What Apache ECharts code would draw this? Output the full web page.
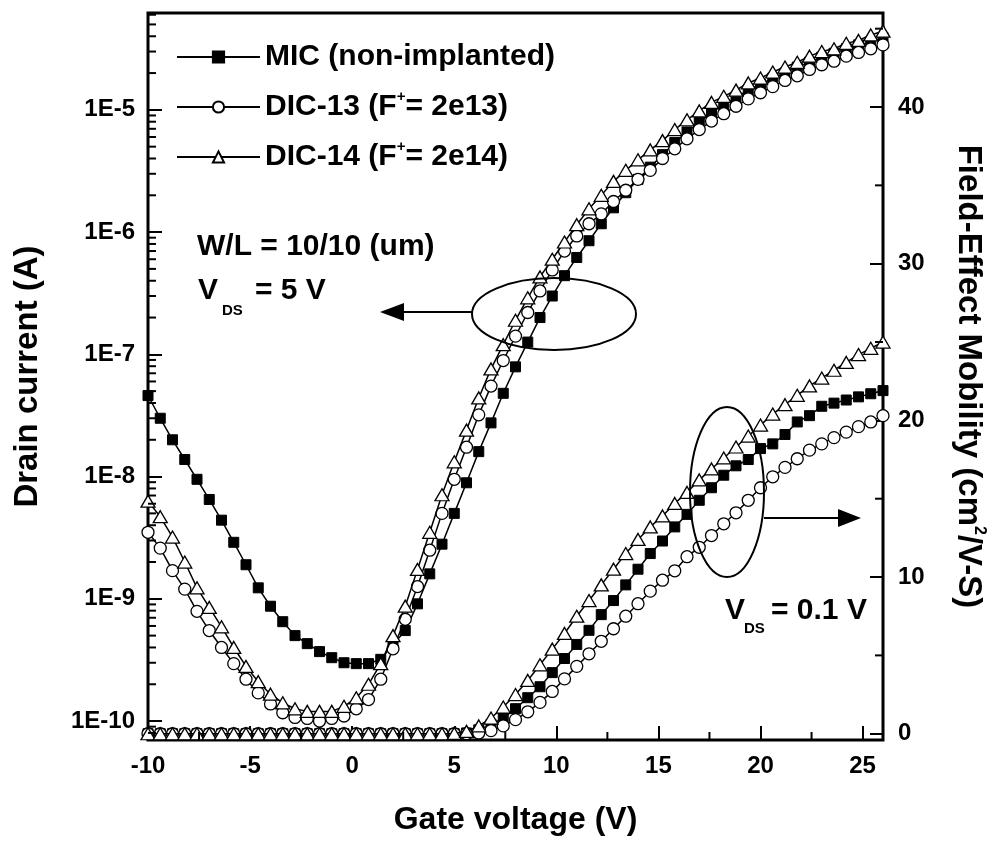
<!DOCTYPE html>
<html>
<head>
<meta charset="utf-8">
<title>Transfer characteristics and field-effect mobility</title>
<script src="https://cdn.jsdelivr.net/npm/echarts@6/dist/echarts.min.js"></script>
<style>
  html, body { margin: 0; padding: 0; background: #fff; }
  #chart { width: 1000px; height: 841px; }
</style>
</head>
<body>
<div id="chart"></div>
<script>
// Gate voltage sweep (V)
const gateVoltage = [
  -10, -9.4, -8.8, -8.2, -7.6, -7.0, -6.4, -5.8, -5.2, -4.6,
  -4.0, -3.4, -2.8, -2.2, -1.6, -1.0, -0.4, 0.2, 0.8, 1.4,
  2.0, 2.6, 3.2, 3.8, 4.4, 5.0, 5.6, 6.2, 6.8, 7.4,
  8.0, 8.6, 9.2, 9.8, 10.4, 11.0, 11.6, 12.2, 12.8, 13.4,
  14.0, 14.6, 15.2, 15.8, 16.4, 17.0, 17.6, 18.2, 18.8, 19.4,
  20.0, 20.6, 21.2, 21.8, 22.4, 23.0, 23.6, 24.2, 24.8, 25.4, 26.0
];

// Drain current (A) at VDS = 5 V
const drainMIC = [
  4.6e-8, 3.0e-8, 2.0e-8, 1.38e-8, 9.5e-9, 6.5e-9, 4.4e-9, 2.9e-9, 1.9e-9, 1.23e-9,
  8.7e-10, 6.5e-10, 5.0e-10, 4.3e-10, 3.7e-10, 3.3e-10, 3.0e-10, 2.95e-10, 2.95e-10, 3.2e-10,
  4.2e-10, 5.5e-10, 9.1e-10, 1.6e-9, 2.8e-9, 5.0e-9, 8.9e-9, 1.6e-8, 2.75e-8, 4.8e-8,
  7.9e-8, 1.26e-7, 2.0e-7, 3.0e-7, 4.4e-7, 6.2e-7, 8.5e-7, 1.17e-6, 1.58e-6, 2.1e-6,
  2.7e-6, 3.4e-6, 4.3e-6, 5.4e-6, 6.6e-6, 7.9e-6, 9.5e-6, 1.1e-5, 1.26e-5, 1.45e-5,
  1.62e-5, 1.82e-5, 2.0e-5, 2.24e-5, 2.45e-5, 2.7e-5, 2.9e-5, 3.16e-5, 3.4e-5, 3.6e-5, 3.9e-5
];
const drainDIC13 = [
  3.5e-9, 2.6e-9, 1.7e-9, 1.2e-9, 7.9e-10, 5.5e-10, 4.0e-10, 2.95e-10, 2.2e-10, 1.7e-10,
  1.38e-10, 1.17e-10, 1.07e-10, 1.05e-10, 1.0e-10, 1.05e-10, 1.1e-10, 1.26e-10, 1.5e-10, 2.2e-10,
  3.9e-10, 6.8e-10, 1.26e-9, 2.5e-9, 5.0e-9, 9.5e-9, 1.74e-8, 3.2e-8, 5.5e-8, 8.9e-8,
  1.41e-7, 2.2e-7, 3.3e-7, 4.9e-7, 7.0e-7, 9.3e-7, 1.17e-6, 1.41e-6, 1.78e-6, 2.2e-6,
  2.7e-6, 3.2e-6, 4.0e-6, 4.8e-6, 5.8e-6, 6.9e-6, 8.1e-6, 9.3e-6, 1.07e-5, 1.23e-5,
  1.38e-5, 1.55e-5, 1.74e-5, 1.9e-5, 2.14e-5, 2.34e-5, 2.5e-5, 2.75e-5, 2.95e-5, 3.16e-5, 3.4e-5
];
const drainDIC14 = [
  6.3e-9, 4.7e-9, 3.2e-9, 2.0e-9, 1.23e-9, 8.5e-10, 5.9e-10, 4.0e-10, 2.8e-10, 2.1e-10,
  1.66e-10, 1.41e-10, 1.26e-10, 1.2e-10, 1.2e-10, 1.2e-10, 1.32e-10, 1.55e-10, 2.0e-10, 2.95e-10,
  5.0e-10, 8.7e-10, 1.74e-9, 3.5e-9, 7.1e-9, 1.32e-8, 2.4e-8, 4.4e-8, 7.6e-8, 1.2e-7,
  1.9e-7, 2.9e-7, 4.3e-7, 6.0e-7, 8.3e-7, 1.15e-6, 1.55e-6, 2.0e-6, 2.6e-6, 3.2e-6,
  3.9e-6, 4.7e-6, 5.6e-6, 6.9e-6, 8.3e-6, 9.8e-6, 1.15e-5, 1.29e-5, 1.45e-5, 1.66e-5,
  1.82e-5, 2.04e-5, 2.24e-5, 2.45e-5, 2.75e-5, 3.0e-5, 3.16e-5, 3.5e-5, 3.7e-5, 4.1e-5, 4.4e-5
];

// Field-effect mobility (cm2/V-s) at VDS = 0.1 V
const mobilityMIC = [
  0, 0, 0, 0, 0, 0, 0, 0, 0, 0,
  0, 0, 0, 0, 0, 0, 0, 0, 0, 0,
  0, 0, 0, 0, 0, 0, 0.05, 0.25, 0.6, 1.0,
  1.6, 2.3, 3.0, 3.9, 4.8, 5.7, 6.6, 7.6, 8.5, 9.5,
  10.5, 11.5, 12.3, 13.2, 14.0, 14.9, 15.7, 16.5, 17.1, 17.5,
  18.2, 18.5, 19.1, 19.9, 20.3, 20.9, 21.1, 21.3, 21.5, 21.7, 21.9
];
const mobilityDIC13 = [
  0, 0, 0, 0, 0, 0, 0, 0, 0, 0,
  0, 0, 0, 0, 0, 0, 0, 0, 0, 0,
  0, 0, 0, 0, 0, 0, 0, 0.05, 0.2, 0.5,
  0.9, 1.4, 2.0, 2.7, 3.5, 4.3, 5.1, 5.9, 6.7, 7.5,
  8.3, 9.1, 9.8, 10.4, 11.3, 11.9, 12.65, 13.4, 14.1, 14.9,
  15.7, 16.4, 17.0, 17.55, 18.1, 18.5, 18.9, 19.25, 19.6, 19.9, 20.3
];
const mobilityDIC14 = [
  0, 0, 0, 0, 0, 0, 0, 0, 0, 0,
  0, 0, 0, 0, 0, 0, 0, 0, 0, 0,
  0, 0, 0, 0, 0, 0.02, 0.15, 0.5, 1.0, 1.7,
  2.5, 3.4, 4.4, 5.4, 6.4, 7.5, 8.5, 9.5, 10.5, 11.5,
  12.4, 13.2, 13.9, 14.7, 15.4, 16.2, 16.9, 17.6, 18.3, 19.0,
  19.7, 20.4, 21.0, 21.6, 22.2, 22.7, 23.2, 23.7, 24.2, 24.6, 25.0
];

const sampleNames = ['MIC (non-implanted)', 'DIC-13 (F+= 2e13)', 'DIC-14 (F+= 2e14)'];

// Axis ranges
const xRange = [-10, 26];
const currentRange = [7e-11, 6.2e-5];
const mobilityRange = [-0.4, 46];
const xMinorTicks = [-7.5, -2.5, 2.5, 7.5, 12.5, 17.5, 22.5];
const mobilityMinorTicks = [5, 15, 25, 35, 45];

const FONT = '"Liberation Sans", Arial, Helvetica, sans-serif';

// Log-axis minor ticks at 2..9 x 10^n
const currentMinorTicks = [];
for (let e = -11; e <= -5; e++) {
  for (let m = 2; m <= 9; m++) {
    const v = m * Math.pow(10, e);
    if (v > currentRange[0] && v < currentRange[1]) currentMinorTicks.push(v);
  }
}

function pairs(values) {
  return gateVoltage.map((v, i) => [v, values[i]]);
}

const markerStyles = [
  { symbol: 'rect', symbolSize: 10, itemStyle: { color: '#000', borderColor: '#000', borderWidth: 1 } },
  { symbol: 'circle', symbolSize: 12, itemStyle: { color: '#fff', borderColor: '#000', borderWidth: 1.3 } },
  { symbol: 'triangle', symbolSize: [14, 12], itemStyle: { color: '#fff', borderColor: '#000', borderWidth: 1.3 } }
];

function curve(nameIdx, values, yAxisIndex) {
  const m = markerStyles[nameIdx];
  return {
    name: sampleNames[nameIdx],
    type: 'line',
    xAxisIndex: 0,
    yAxisIndex: yAxisIndex,
    data: pairs(values),
    symbol: m.symbol,
    symbolSize: m.symbolSize,
    showSymbol: true,
    showAllSymbol: true,
    itemStyle: m.itemStyle,
    lineStyle: { color: '#000', width: 1.5 },
    emphasis: { disabled: true },
    z: 3 + nameIdx,
    clip: true
  };
}

// Short tick marks drawn through the axis scales
function tickSeries(yAxisIndex, data, maker) {
  return {
    type: 'custom',
    xAxisIndex: 0,
    yAxisIndex: yAxisIndex,
    silent: true,
    z: 10,
    data: data,
    renderItem: function (params, api) {
      const p = api.coord([api.value(0), api.value(1)]);
      const s = maker(p);
      return {
        type: 'line',
        shape: { x1: p[0], y1: p[1], x2: s[0], y2: s[1] },
        style: { stroke: '#000', lineWidth: 2 }
      };
    }
  };
}

const chart = echarts.init(document.getElementById('chart'), null, { renderer: 'canvas' });

const supRich = {
  sup: { fontSize: 15, fontWeight: 'bold', fontFamily: FONT, color: '#000', verticalAlign: 'top', lineHeight: 36, padding: [0, 0, 14, 0] }
};

const option = {
  animation: false,
  backgroundColor: '#fff',
  grid: {
    left: 148, right: 117, top: 13, bottom: 100,
    show: true, borderColor: '#000', borderWidth: 3, backgroundColor: 'transparent'
  },
  legend: {
    data: sampleNames,
    orient: 'vertical',
    left: 171,
    top: 34,
    itemWidth: 83,
    itemHeight: 14,
    itemGap: 14,
    selectedMode: false,
    formatter: function (name) {
      return name.replace('F+', 'F{sup|+}');
    },
    textStyle: {
      fontFamily: FONT, fontWeight: 'bold', fontSize: 30, color: '#000', lineHeight: 36,
      rich: supRich
    }
  },
  xAxis: [{
    type: 'value',
    min: xRange[0], max: xRange[1], interval: 5,
    name: 'Gate voltage (V)',
    nameLocation: 'middle',
    nameGap: 64,
    nameTextStyle: { fontFamily: FONT, fontWeight: 'bold', fontSize: 32, color: '#000' },
    axisLine: { show: false, onZero: false },
    axisTick: { show: true, inside: true, length: 14, lineStyle: { color: '#000', width: 2 } },
    axisLabel: { showMaxLabel: false, margin: 14, fontFamily: FONT, fontWeight: 'bold', fontSize: 24, color: '#000' },
    splitLine: { show: false }
  }],
  yAxis: [{
    type: 'log',
    logBase: 10,
    min: currentRange[0], max: currentRange[1],
    position: 'left',
    name: 'Drain current (A)',
    nameLocation: 'middle',
    nameRotate: 90,
    nameGap: 104,
    nameTextStyle: { fontFamily: FONT, fontWeight: 'bold', fontSize: 33, color: '#000' },
    axisLine: { show: false, onZero: false },
    axisTick: { show: true, inside: true, length: 14, lineStyle: { color: '#000', width: 2 } },
    axisLabel: {
      showMinLabel: false, showMaxLabel: false, margin: 13,
      fontFamily: FONT, fontWeight: 'bold', fontSize: 24, color: '#000',
      formatter: function (v) { return '1E' + Math.round(Math.log10(v)); }
    },
    splitLine: { show: false }
  }, {
    type: 'value',
    min: mobilityRange[0], max: mobilityRange[1],
    position: 'right',
    name: 'Field-Effect Mobility (cm{sup|2}/V-S)',
    nameLocation: 'middle',
    nameRotate: -90,
    nameGap: 66,
    nameTextStyle: {
      fontFamily: FONT, fontWeight: 'bold', fontSize: 33, color: '#000', lineHeight: 38,
      rich: { sup: { fontSize: 16, fontWeight: 'bold', fontFamily: FONT, color: '#000', verticalAlign: 'top', lineHeight: 38, padding: [0, 0, 14, 0] } }
    },
    axisLine: { show: false, onZero: false },
    axisTick: { show: true, inside: true, length: 13, lineStyle: { color: '#000', width: 2 } },
    axisLabel: {
      showMinLabel: false, showMaxLabel: false, margin: 15,
      fontFamily: FONT, fontWeight: 'bold', fontSize: 24, color: '#000'
    },
    splitLine: { show: false }
  }],
  graphic: [
    // Annotation for the VDS = 5 V transfer curves
    { type: 'ellipse', shape: { cx: 554, cy: 314, rx: 82, ry: 36 }, style: { fill: 'none', stroke: '#000', lineWidth: 2 }, z: 20 },
    { type: 'line', shape: { x1: 472, y1: 312, x2: 398, y2: 312 }, style: { stroke: '#000', lineWidth: 2 }, z: 20 },
    { type: 'polygon', shape: { points: [[380, 312], [404, 303], [404, 321]] }, style: { fill: '#000' }, z: 20 },
    { type: 'text', left: 197, top: 232, style: { text: 'W/L = 10/10 (um)', font: 'bold 30px ' + FONT, fill: '#000' }, z: 20 },
    { type: 'text', left: 198, top: 276, style: { text: 'V', font: 'bold 30px ' + FONT, fill: '#000' }, z: 20 },
    { type: 'text', left: 222, top: 303, style: { text: 'DS', font: 'bold 15px ' + FONT, fill: '#000' }, z: 20 },
    { type: 'text', left: 255, top: 276, style: { text: '= 5 V', font: 'bold 30px ' + FONT, fill: '#000' }, z: 20 },
    // Annotation for the VDS = 0.1 V mobility curves
    { type: 'ellipse', shape: { cx: 727, cy: 492, rx: 37, ry: 85 }, style: { fill: 'none', stroke: '#000', lineWidth: 2 }, z: 20 },
    { type: 'line', shape: { x1: 764, y1: 518, x2: 842, y2: 518 }, style: { stroke: '#000', lineWidth: 2 }, z: 20 },
    { type: 'polygon', shape: { points: [[861, 518], [838, 509], [838, 527]] }, style: { fill: '#000' }, z: 20 },
    { type: 'text', left: 725, top: 596, style: { text: 'V', font: 'bold 30px ' + FONT, fill: '#000' }, z: 20 },
    { type: 'text', left: 744, top: 621, style: { text: 'DS', font: 'bold 15px ' + FONT, fill: '#000' }, z: 20 },
    { type: 'text', left: 771, top: 596, style: { text: '= 0.1 V', font: 'bold 30px ' + FONT, fill: '#000' }, z: 20 }
  ],
  series: [
    curve(0, drainMIC, 0),
    curve(1, drainDIC13, 0),
    curve(2, drainDIC14, 0),
    curve(0, mobilityMIC, 1),
    curve(1, mobilityDIC13, 1),
    curve(2, mobilityDIC14, 1),
    tickSeries(0, currentMinorTicks.map(v => [xRange[0], v]), p => [p[0] + 8, p[1]]),
    tickSeries(1, mobilityMinorTicks.map(v => [xRange[1], v]), p => [p[0] - 8, p[1]]),
    tickSeries(1, xMinorTicks.map(v => [v, mobilityRange[0]]), p => [p[0], p[1] - 8])
  ]
};

chart.setOption(option);
</script>
</body>
</html>
